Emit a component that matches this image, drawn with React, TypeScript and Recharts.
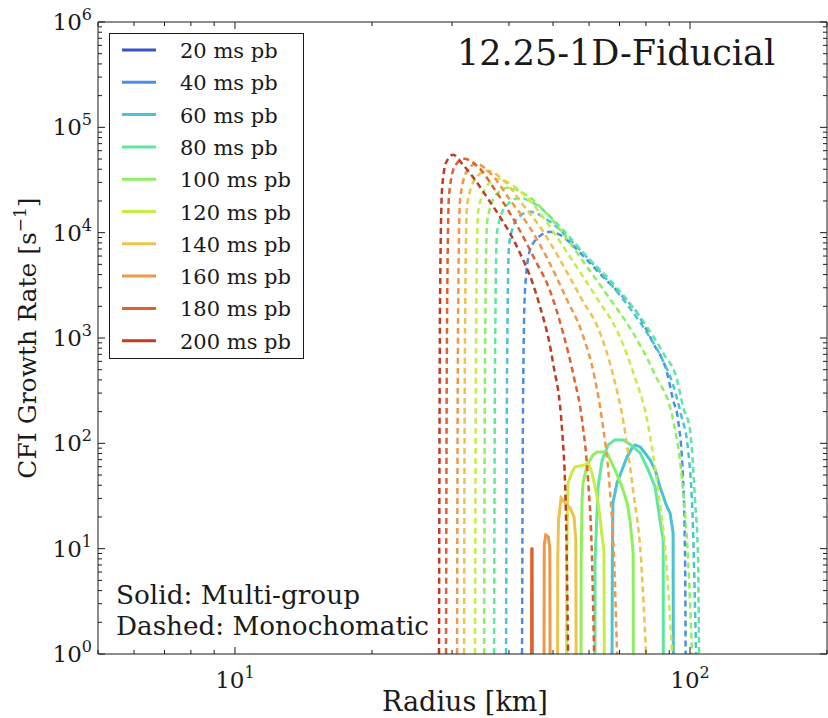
import React from 'react';
import { LineChart, Line, XAxis, YAxis, Legend, Customized } from 'recharts';

const FONT = '"DejaVu Serif", serif';
const INK = '#1a1a1a';

// legend entries, oldest last
const times = ['20 ms pb', '40 ms pb', '60 ms pb', '80 ms pb', '100 ms pb', '120 ms pb', '140 ms pb', '160 ms pb', '180 ms pb', '200 ms pb'];
const colors = ['#3b52c4', '#4a8fe6', '#4cc3d2', '#5fe6a0', '#8ef05c', '#c8ec46', '#ecc34c', '#f0984a', '#e1612e', '#bf3b22'];

const xMajorTicks = [10, 100];
const xMinorTicks = [5, 6, 7, 8, 9, 20, 30, 40, 50, 60, 70, 80, 90, 200];
const yMajorTicks = [1, 10, 100, 1000, 10000, 100000, 1000000];
const yMinorTicks = [
  2, 3, 4, 5, 6, 7, 8, 9,
  20, 30, 40, 50, 60, 70, 80, 90,
  200, 300, 400, 500, 600, 700, 800, 900,
  2000, 3000, 4000, 5000, 6000, 7000, 8000, 9000,
  20000, 30000, 40000, 50000, 60000, 70000, 80000, 90000,
  200000, 300000, 400000, 500000, 600000, 700000, 800000, 900000,
];

// monochromatic (dashed) growth rate, [radius km, rate 1/s]
const mono40 = [[42.74, 1], [42.96, 258], [43.39, 2863], [44.51, 6866], [46.82, 9323], [49.25, 10176], [51.81, 9530], [54.5, 8002], [59.39, 5516], [64.4, 3804], [71.26, 2457], [76.5, 1731], [82.95, 898], [89.04, 466], [91.78, 258], [94.13, 167], [96.55, 45], [97.54, 7.8], [97.8, 1]];
const mono60 = [[39.42, 1], [39.62, 498], [40.02, 7658], [41.67, 13523], [44.51, 15760], [49.25, 12663], [55.9, 7658], [63.43, 4243], [70.9, 2399], [78.86, 1275], [85.94, 691], [91.78, 358], [95.58, 186], [99.03, 86.6], [101.55, 15], [103.11, 1]];
const mono80 = [[37.1, 1], [37.28, 620], [37.66, 10176], [39.42, 17970], [42.31, 21400], [45.19, 19190], [52.6, 10631], [59.39, 5891], [65.72, 3804], [72.72, 2296], [80.47, 1275], [87.26, 722], [93.66, 400], [96.55, 222], [100.02, 134], [102.56, 29], [104.15, 7.8], [104.68, 1]];
const mono100 = [[35.27, 1], [35.45, 771], [35.81, 12663], [37.47, 22860], [39.82, 26630], [43.62, 22860], [48.27, 15420], [52.87, 9530], [57.9, 5516], [65.72, 2567], [74.96, 1118], [83.8, 446], [91.78, 167], [96.07, 44.9], [99.03, 7.8], [101.03, 1]];
const mono120 = [[33.69, 1], [33.87, 959], [34.21, 15760], [35.81, 27820], [37.85, 32420], [41.25, 27220], [45.65, 17580], [50.26, 9956], [55.05, 5516], [62.16, 2457], [69.48, 1118], [75.34, 446], [80.47, 167], [85.07, 36], [88.6, 7.8], [91.32, 1]];
const mono140 = [[31.87, 1], [32.03, 1194], [32.36, 18365], [33.87, 33150], [35.81, 38630], [38.83, 31720], [42.96, 18365], [47.3, 10631], [51.81, 5516], [57.61, 2399], [63.43, 1118], [67.74, 446], [71.26, 167], [74.96, 36], [78.06, 7.8], [80.07, 1]];
const mono160 = [[30.76, 1], [30.92, 1486], [31.23, 20490], [32.36, 38630], [33.87, 45020], [36.53, 36170], [40.22, 20490], [44.51, 11106], [48.75, 5516], [53.41, 2399], [57.9, 1118], [61.54, 446], [64.07, 167], [66.39, 44.9], [68.09, 7.8], [69.13, 1]];
const mono180 = [[29.09, 1], [29.24, 1486], [29.54, 22860], [30.45, 43100], [31.87, 50220], [34.21, 42150], [37.28, 25500], [41.25, 12660], [45.65, 5516], [49.25, 2801], [52.6, 1118], [55.62, 418], [57.9, 167], [59.69, 44.9], [60.91, 7.8], [61.54, 1]];
const mono200 = [[28.08, 1], [28.22, 2062], [28.51, 25500], [29.09, 46000], [30.14, 54800], [31.71, 44000], [33.69, 31720], [36.35, 19610], [38.24, 14125], [41.67, 7330], [46.12, 2457], [50.0, 580], [52.34, 134], [53.41, 18.7], [53.95, 1]];

// multi-group (solid) growth rate
const multi60 = [[67.4, 1], [67.5, 7.8], [67.7, 27.2], [69.1, 42], [70.9, 55.9], [72.7, 74.3], [74.6, 90.4], [75.7, 96.6], [77.7, 92.4], [79.6, 81], [81.7, 69.6], [83.8, 55.9], [85.9, 38.5], [89.0, 24.9], [90.4, 21.8], [91.8, 14.1], [91.9, 1]];
const multi80 = [[61.8, 1], [61.85, 7.8], [62.8, 38.5], [64.1, 69.6], [66.1, 96.6], [68.4, 107.8], [71.3, 107.8], [73.1, 100.9], [75.0, 92.4], [77.7, 81], [80.9, 55.9], [83.8, 38.5], [85.9, 18.7], [87.3, 12.1], [87.35, 1]];
const multi100 = [[57.6, 1], [57.65, 7.8], [57.9, 29], [58.2, 42], [59.4, 62.4], [61.2, 77.6], [62.5, 82.8], [64.4, 82.8], [65.7, 81], [68.4, 55.9], [70.9, 38.5], [72.7, 27.2], [73.8, 18.7], [75.0, 9.1], [75.05, 1]];
const multi120 = [[53.55, 1], [53.6, 7.8], [53.8, 29], [53.95, 42], [55.05, 53.5], [55.9, 59.7], [58.8, 62.4], [59.7, 65.2], [60.9, 52.4], [62.5, 31], [63.4, 20], [64.1, 12.9], [64.7, 9.7], [64.8, 1]];
const multi140 = [[51.16, 1], [51.2, 7.8], [51.42, 18.7], [52.07, 30.3], [53.14, 27.2], [54.5, 24.4], [55.6, 20], [56.1, 12.1], [56.2, 1]];
const multi160 = [[47.77, 1], [47.83, 10.8], [48.19, 13.5], [48.83, 12.9], [49.18, 10.2], [49.26, 1]];
const multi180 = [[44.85, 1], [44.88, 10.2], [44.98, 10], [45.02, 1]];

const monoByTime = [null, mono40, mono60, mono80, mono100, mono120, mono140, mono160, mono180, mono200];
const multiByTime = [null, null, multi60, multi80, multi100, multi120, multi140, multi160, multi180, null];

const toPts = (a: number[][]) => a.map(([r, v]) => ({ r, v }));

const isMajor = (v: number) => Math.abs(Math.log10(v) - Math.round(Math.log10(v))) < 1e-6;

const Pow = ({ x, y, value, anchor }: any) => (
  <text x={x} y={y} textAnchor={anchor} fontFamily={FONT} fontSize={23} fill={INK}>
    10<tspan dy={-10} fontSize={16}>{Math.round(Math.log10(value))}</tspan>
  </text>
);

// matplotlib-style inward ticks; the tick props sit on the spine since tickSize = tickMargin = 0
const makeXTick = (side: 'bottom' | 'top') => (props: any) => {
  const { x, y, payload } = props;
  const major = isMajor(payload.value);
  const len = major ? 7 : 4;
  const dir = side === 'bottom' ? -1 : 1;
  return (
    <g>
      <line x1={x} x2={x} y1={y} y2={y + dir * len} stroke={INK} strokeWidth={1} />
      {side === 'bottom' && major && <Pow x={x} y={y + 34} value={payload.value} anchor="middle" />}
    </g>
  );
};

const makeYTick = (side: 'left' | 'right') => (props: any) => {
  const { x, y, payload } = props;
  const major = isMajor(payload.value);
  const len = major ? 7 : 4;
  const dir = side === 'left' ? 1 : -1;
  return (
    <g>
      <line x1={x} x2={x + dir * len} y1={y} y2={y} stroke={INK} strokeWidth={1} />
      {side === 'left' && major && <Pow x={x - 6} y={y + 8} value={payload.value} anchor="end" />}
    </g>
  );
};

const LegendBox = () => (
  <svg width={195} height={326} style={{ display: 'block' }}>
    <rect x={0.5} y={0.5} width={194} height={325} fill="#fff" stroke={INK} strokeWidth={1} />
    {times.map((t, i) => {
      const cy = 17 + i * 32.3;
      return (
        <g key={t}>
          <line x1={13} x2={47} y1={cy} y2={cy} stroke={colors[i]} strokeWidth={3} />
          <text x={71} y={cy + 8} fontFamily={FONT} fontSize={21} fill={INK}>{t}</text>
        </g>
      );
    })}
  </svg>
);

const Annotations = () => (
  <g fontFamily={FONT} fill={INK}>
    <text x={457} y={65} fontSize={35}>12.25-1D-Fiducial</text>
    <text x={116} y={604} fontSize={26} textLength={244} lengthAdjust="spacingAndGlyphs">Solid: Multi-group</text>
    <text x={116} y={635} fontSize={26} textLength={313} lengthAdjust="spacingAndGlyphs">Dashed: Monochomatic</text>
    <text x={465} y={711} fontSize={27} textAnchor="middle">Radius [km]</text>
    <text x={36} y={338} fontSize={25} textAnchor="middle" transform="rotate(-90 36 338)">
      CFI Growth Rate [s<tspan dy={-10} fontSize={17}>−1</tspan><tspan dy={10}>]</tspan>
    </text>
  </g>
);

const xTicks = [...xMinorTicks, ...xMajorTicks].sort((a, b) => a - b);
const yTicks = [...yMinorTicks, ...yMajorTicks].sort((a, b) => a - b);

export default function App() {
  return (
    <div style={{ position: 'absolute', left: 0, top: 0, width: 828, height: 718, background: '#fff' }}>
      <LineChart width={828} height={718} margin={{ top: 21, right: 0, bottom: 63, left: 97 }}>
        <XAxis xAxisId="b" dataKey="r" type="number" scale="log" domain={[5, 200]} allowDataOverflow
          ticks={xTicks} interval={0} tickSize={0} tickMargin={0} height={1}
          axisLine={{ stroke: INK }} tickLine={false} tick={makeXTick('bottom')} />
        <XAxis xAxisId="t" orientation="top" dataKey="r" type="number" scale="log" domain={[5, 200]} allowDataOverflow
          ticks={xTicks} interval={0} tickSize={0} tickMargin={0} height={1}
          axisLine={{ stroke: INK }} tickLine={false} tick={makeXTick('top')} />
        <YAxis yAxisId="l" dataKey="v" type="number" scale="log" domain={[1, 1000000]} allowDataOverflow
          ticks={yTicks} interval={0} tickSize={0} tickMargin={0} width={1}
          axisLine={{ stroke: INK }} tickLine={false} tick={makeYTick('left')} />
        <YAxis yAxisId="r" orientation="right" dataKey="v" type="number" scale="log" domain={[1, 1000000]} allowDataOverflow
          ticks={yTicks} interval={0} tickSize={0} tickMargin={0} width={1}
          axisLine={{ stroke: INK }} tickLine={false} tick={makeYTick('right')} />

        {multiByTime.map((d, i) => d && (
          <Line key={'multi' + i} xAxisId="b" yAxisId="l" data={toPts(d)} dataKey="v" name={times[i] + ' multi'}
            type="linear" stroke={colors[i]} strokeWidth={3} dot={false} activeDot={false} isAnimationActive={false} />
        ))}
        {monoByTime.map((d, i) => d && (
          <Line key={'mono' + i} xAxisId="b" yAxisId="l" data={toPts(d)} dataKey="v" name={times[i] + ' mono'}
            type="monotoneX" stroke={colors[i]} strokeWidth={2.5} strokeDasharray="6 4" dot={false} activeDot={false} isAnimationActive={false} />
        ))}

        <Legend layout="vertical" align="center" verticalAlign="middle" content={() => <LegendBox />}
          wrapperStyle={{ left: 109, top: 33, width: 195, height: 326 }} />
        <Customized component={Annotations} />
      </LineChart>
    </div>
  );
}
